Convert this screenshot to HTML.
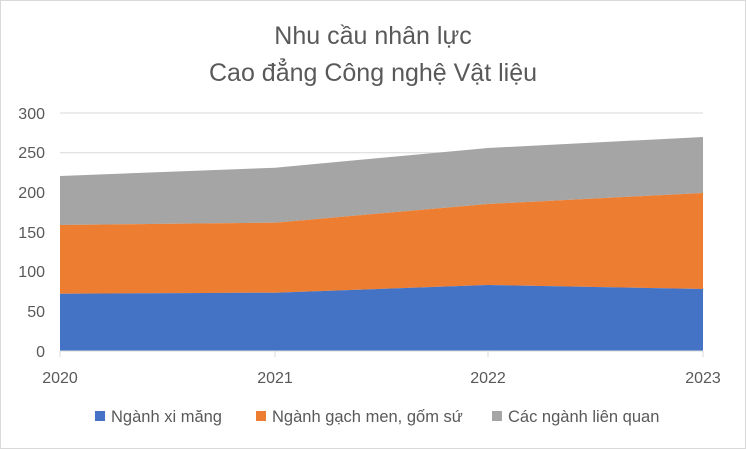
<!DOCTYPE html>
<html><head><meta charset="utf-8"><style>
body{margin:0;background:#fff}
svg{display:block;font-family:"Liberation Sans",Calibri,sans-serif}
</style></head><body>
<svg width="746" height="449" viewBox="0 0 746 449">
<rect x="0.5" y="0.5" width="745" height="448" fill="#fff" stroke="#d9d9d9"/>
<text x="373" y="44" text-anchor="middle" font-size="25" fill="#595959">Nhu cầu nhân lực</text>
<text x="373" y="81" text-anchor="middle" font-size="25" fill="#595959">Cao đẳng Công nghệ Vật liệu</text>
<g stroke="#d9d9d9" stroke-width="1">
<line x1="60" x2="703" y1="113" y2="113"/><line x1="60" x2="703" y1="152.7" y2="152.7"/>
<line x1="60" x2="703" y1="192.3" y2="192.3"/><line x1="60" x2="703" y1="232" y2="232"/>
<line x1="60" x2="703" y1="271.7" y2="271.7"/><line x1="60" x2="703" y1="311.3" y2="311.3"/>
</g>
<polygon fill="#a5a5a5" points="60,176 275,167.7 488,148 703,137 703,193 488,204 275,222.7 60,225"/>
<polygon fill="#ed7d31" points="60,225 275,222.7 488,204 703,193 703,289 488,285 275,292.7 60,293.7"/>
<polygon fill="#4472c4" points="60,293.7 275,292.7 488,285 703,289 703,351 60,351"/>
<g stroke="#d9d9d9"><line x1="60" x2="703" y1="351" y2="351"/>
<line x1="60" x2="60" y1="351" y2="357"/><line x1="275" x2="275" y1="351" y2="357"/><line x1="488" x2="488" y1="351" y2="357"/><line x1="703" x2="703" y1="351" y2="357"/></g>
<g font-size="16" fill="#595959" text-anchor="end">
<text x="45" y="119">300</text><text x="45" y="158">250</text><text x="45" y="198">200</text>
<text x="45" y="238">150</text><text x="45" y="277">100</text><text x="45" y="317">50</text><text x="45" y="357">0</text>
</g>
<g font-size="16" fill="#595959" text-anchor="middle">
<text x="60" y="383">2020</text><text x="275" y="383">2021</text><text x="488" y="383">2022</text><text x="703" y="383">2023</text>
</g>
<g font-size="16.5" fill="#595959">
<rect x="95" y="411" width="10" height="10" fill="#4472c4"/><text x="111" y="422">Ngành xi măng</text>
<rect x="256" y="411" width="10" height="10" fill="#ed7d31"/><text x="272" y="422">Ngành gạch men, gốm sứ</text>
<rect x="492" y="411" width="10" height="10" fill="#a5a5a5"/><text x="508" y="422">Các ngành liên quan</text>
</g>
</svg>
</body></html>
